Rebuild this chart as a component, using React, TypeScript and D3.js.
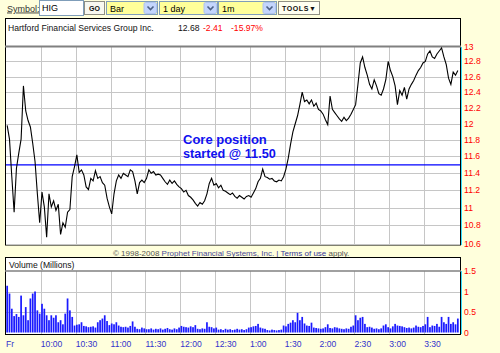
import React, { useMemo } from 'react';
import * as d3 from 'd3';

// 2-minute closing prices, 9:30 to 15:58
const closes = [
  11.98, 11.81, 11.36, 10.95, 11.46, 11.64, 11.81, 12.48, 12.16, 12.04,
  11.96, 11.76, 11.54, 11.16, 10.83, 11.18, 11.01, 10.67, 11.16, 11.01,
  11.08, 10.97, 11.04, 10.70, 10.83, 10.78, 10.95, 10.98, 11.36, 11.48,
  11.62, 11.41, 11.44, 11.38, 11.24, 11.21, 11.34, 11.31, 11.43, 11.34,
  11.36, 11.29, 11.26, 11.11, 11.01, 10.93, 11.16, 11.31, 11.38, 11.34,
  11.40, 11.38, 11.36, 11.44, 11.42, 11.31, 11.16, 11.29, 11.32, 11.29,
  11.34, 11.44, 11.40, 11.42, 11.38, 11.39,
  11.38, 11.34, 11.30, 11.27, 11.32, 11.28, 11.31, 11.27, 11.24, 11.22,
  11.18, 11.20, 11.14, 11.12, 11.09, 11.05, 11.02, 11.06, 11.04, 11.08,
  11.16, 11.28, 11.34, 11.26, 11.28, 11.23, 11.26, 11.20, 11.19, 11.17,
  11.15, 11.17, 11.13, 11.11, 11.14, 11.12, 11.10, 11.13, 11.14, 11.12,
  11.17, 11.22, 11.30, 11.34, 11.45, 11.36, 11.35, 11.33, 11.34, 11.31,
  11.30, 11.32, 11.31, 11.36, 11.45, 11.58, 11.75, 11.90, 12.00, 12.10,
  12.24, 12.40, 12.28, 12.30,
  12.25, 12.30, 12.22, 12.26, 12.18, 12.16, 12.12, 12.05, 11.99, 12.35,
  12.18, 12.14, 12.10, 12.06, 12.03, 12.08, 12.04, 12.07, 12.12, 12.18,
  12.24, 12.50, 12.78, 12.86, 12.72, 12.62, 12.50, 12.44, 12.56, 12.48,
  12.38, 12.36, 12.44, 12.56, 12.80, 12.68, 12.60, 12.48, 12.24, 12.42,
  12.36, 12.46, 12.31, 12.44, 12.50, 12.55, 12.62, 12.68, 12.72, 12.78,
  12.80, 12.90, 12.94, 12.86, 12.84, 12.90, 12.94, 12.98, 12.86, 12.76,
  12.58, 12.50, 12.66, 12.62, 12.68,
];

// 2-minute volume, millions of shares
const volumes = [
  1.14, 0.95, 0.58, 0.40, 0.45, 0.38, 0.90, 0.42, 0.62, 0.30,
  0.83, 0.95, 1.00, 0.54, 0.46, 0.70, 0.58, 0.42, 0.30, 0.42,
  0.36, 0.42, 0.25, 0.30, 0.20, 0.46, 0.83, 0.54, 0.38, 0.17,
  0.19, 0.20, 0.25, 0.16, 0.15, 0.13, 0.14, 0.15, 0.12, 0.25,
  0.30, 0.34, 0.42, 0.28, 0.18, 0.22, 0.20, 0.25, 0.17, 0.14,
  0.13, 0.14, 0.12, 0.16, 0.27, 0.14, 0.09, 0.08, 0.12, 0.10,
  0.08, 0.08, 0.10, 0.07, 0.09, 0.08, 0.10, 0.07, 0.09, 0.11,
  0.08, 0.07, 0.10, 0.08, 0.12, 0.16, 0.14, 0.13, 0.12, 0.15,
  0.13, 0.18, 0.09, 0.08, 0.10, 0.09, 0.25, 0.14, 0.13, 0.10,
  0.12, 0.07, 0.08, 0.06, 0.09, 0.07, 0.08, 0.06, 0.07, 0.09,
  0.07, 0.08, 0.06, 0.08, 0.12, 0.13, 0.15, 0.16, 0.21, 0.12,
  0.10, 0.09, 0.06, 0.05, 0.07, 0.06, 0.05, 0.06, 0.07, 0.17,
  0.15, 0.21, 0.24, 0.30, 0.25, 0.48, 0.30, 0.38, 0.22, 0.17,
  0.16, 0.24, 0.12, 0.11, 0.10, 0.09, 0.10, 0.13, 0.20, 0.11,
  0.10, 0.13, 0.12, 0.10, 0.09, 0.08, 0.10, 0.09, 0.14, 0.17,
  0.42, 0.30, 0.36, 0.38, 0.21, 0.13, 0.14, 0.12, 0.09, 0.10,
  0.08, 0.10, 0.17, 0.20, 0.13, 0.10, 0.15, 0.21, 0.17, 0.16,
  0.15, 0.13, 0.11, 0.12, 0.10, 0.12, 0.17, 0.14, 0.13, 0.16,
  0.20, 0.38, 0.13, 0.17, 0.16, 0.21, 0.14, 0.38, 0.25, 0.21,
  0.38, 0.21, 0.25, 0.20, 0.34,
];

const priceTicks = [13, 12.8, 12.6, 12.4, 12.2, 12, 11.8, 11.6, 11.4, 11.2, 11, 10.8, 10.6];
const volTicks = [0, 0.5, 1, 1.5];
const timeLabels = ['Fr', '10:00', '10:30', '11:00', '11:30', '12:00', '12:30', '1:00', '1:30', '2:00', '2:30', '3:00', '3:30'];
const timeLabelMinutes = [0, 30, 60, 90, 120, 150, 180, 210, 240, 270, 300, 330, 360];
const corePrice = 11.5;

const ui = '"Liberation Sans", Arial, sans-serif';
const bg = '#ffffdc';

const SelectBox: React.FC<{ x: number; w: number; label: string }> = ({ x, w, label }) => (
  <g>
    <rect x={x + 0.5} y={1.5} width={w} height={13} fill="#ffff99" stroke="#7f9db9" />
    <text x={x + 4} y={11.5} fontSize={9} fontFamily={ui} fill="#000">{label}</text>
    <rect x={x + w - 13} y={2.5} width={12.5} height={11} rx={1.5} fill="#c3d5fd" stroke="#b0c4ee" />
    <path d={`M${x + w - 9.5},6.5 L${x + w - 6.5},9.5 L${x + w - 3.5},6.5`} fill="none" stroke="#4d6185" strokeWidth={1.6} />
  </g>
);

export default function App() {
  const x = useMemo(() => d3.scaleLinear().domain([0, 390]).range([6, 459]), []);
  const y = useMemo(() => d3.scaleLog().domain([10.6, 13]).range([243.5, 46.5]), []);
  const yv = useMemo(() => d3.scaleLinear().domain([0, 1.5]).range([332.5, 271]), []);

  const pricePath = useMemo(() => {
    const line = d3.line<number>()
      .x((_, i) => x(i * 2 + 1))
      .y(d => y(d));
    return line(closes) || '';
  }, [x, y]);

  const barW = x(2) - x(0) - 0.6;

  return (
    <div style={{ position: 'fixed', left: 0, top: 0, width: 500, height: 353, background: bg }}>
      <svg width={500} height={353} style={{ display: 'block' }}>
        <rect width={500} height={353} fill={bg} />

        {/* toolbar */}
        <text x={7} y={11.5} fontSize={9} fontFamily={ui} fill="#333" textDecoration="underline">Symbol:</text>
        <rect x={39.5} y={0.5} width={44} height={15} fill="#fff" stroke="#7f9db9" />
        <text x={42} y={11} fontSize={9} fontFamily={ui} fill="#000">HIG</text>
        <rect x={84.5} y={1.5} width={20} height={13} fill="#f8f8f0" stroke="#222" strokeDasharray="1,1" />
        <text x={94.5} y={10.5} fontSize={7} fontWeight="bold" fontFamily={ui} textAnchor="middle" fill="#111">GO</text>
        <SelectBox x={106} w={51} label="Bar" />
        <SelectBox x={159} w={58} label="1 day" />
        <SelectBox x={218} w={58} label="1m" />
        <rect x={278.5} y={1.5} width={41} height={13} fill="#fffff0" stroke="#222" strokeDasharray="1,1" />
        <text x={282} y={10.5} fontSize={7} fontWeight="bold" fontFamily={ui} fill="#111" letterSpacing={0.6}>TOOLS▼</text>

        {/* price panel */}
        <rect x={5.5} y={18.5} width={455} height={226.5} fill="#fff" stroke="#000" />
        <text x={8} y={30.5} fontSize={8.6} fontFamily={ui} fill="#111">Hartford Financial Services Group Inc.</text>
        <text x={178} y={30.5} fontSize={8.6} fontFamily={ui} fill="#111">12.68</text>
        <text x={203} y={30.5} fontSize={8.6} fontFamily={ui} fill="#ff0000">-2.41</text>
        <text x={231} y={30.5} fontSize={8.6} fontFamily={ui} fill="#ff0000">-15.97%</text>

        {timeLabelMinutes.slice(1).map(m => (
          <line key={`vg${m}`} x1={Math.round(x(m)) + 0.5} x2={Math.round(x(m)) + 0.5} y1={47} y2={245} stroke="#c6c6c6" />
        ))}
        {priceTicks.slice(1).map(p => (
          <line key={`hg${p}`} x1={6} x2={460} y1={Math.round(y(p)) + 0.5} y2={Math.round(y(p)) + 0.5} stroke="#c6c6c6" />
        ))}
        <line x1={5} x2={461} y1={46.5} y2={46.5} stroke="#808080" strokeWidth={2} />

        <line x1={6} x2={460} y1={y(corePrice)} y2={y(corePrice)} stroke="#0000ff" strokeWidth={1.2} />
        <path d={pricePath} fill="none" stroke="#000" strokeWidth={1.1} />

        <text x={183} y={143.5} fontSize={13} fontWeight="bold" fontFamily={ui} fill="#1010f0">Core position</text>
        <text x={183} y={158} fontSize={12.7} fontWeight="bold" fontFamily={ui} fill="#1010f0">started @ 11.50</text>

        <line x1={461.5} x2={461.5} y1={47} y2={245} stroke="#33ddff" />
        {priceTicks.map(p => (
          <text key={`pt${p}`} x={464} y={y(p)} dy="0.35em" fontSize={8.6} fontFamily={ui} fill="#ff0000">{p}</text>
        ))}

        {/* copyright */}
        <text x={113} y={255.5} fontSize={8} fontFamily={ui} fill="#555">
          © 1998-2008 <tspan fill="#4a4a99">Prophet Financial Systems, Inc.</tspan>
          <tspan fill="#333399"> | Terms of use</tspan> apply.
        </text>

        {/* volume panel */}
        <rect x={5.5} y={257.5} width={455} height={77} fill="#fff" stroke="#000" />
        <text x={9} y={268} fontSize={8.6} fontFamily={ui} fill="#111">Volume (Millions)</text>
        {timeLabelMinutes.slice(1).map(m => (
          <line key={`vvg${m}`} x1={Math.round(x(m)) + 0.5} x2={Math.round(x(m)) + 0.5} y1={271} y2={334} stroke="#c6c6c6" />
        ))}
        {volTicks.slice(1, 3).map(v => (
          <line key={`vhg${v}`} x1={6} x2={460} y1={Math.round(yv(v)) + 0.5} y2={Math.round(yv(v)) + 0.5} stroke="#c6c6c6" />
        ))}
        <line x1={5} x2={461} y1={271} y2={271} stroke="#808080" strokeWidth={1.5} />
        {volumes.map((v, i) => (
          <rect key={`vb${i}`} x={x(i * 2) + 0.3} y={yv(v)} width={barW} height={yv(0) - yv(v)} fill="#1a1aff" />
        ))}
        <line x1={461.5} x2={461.5} y1={271} y2={334} stroke="#33ddff" />
        {volTicks.map(v => (
          <text key={`vt${v}`} x={464} y={yv(v)} dy="0.35em" fontSize={8.6} fontFamily={ui} fill="#ff0000">{v}</text>
        ))}

        {timeLabels.map((t, i) => (
          <text key={`tl${t}`} x={i === 0 ? 6 : x(timeLabelMinutes[i])} y={347} fontSize={8.6} fontFamily={ui} fill="#3333cc">{t}</text>
        ))}
      </svg>
    </div>
  );
}
